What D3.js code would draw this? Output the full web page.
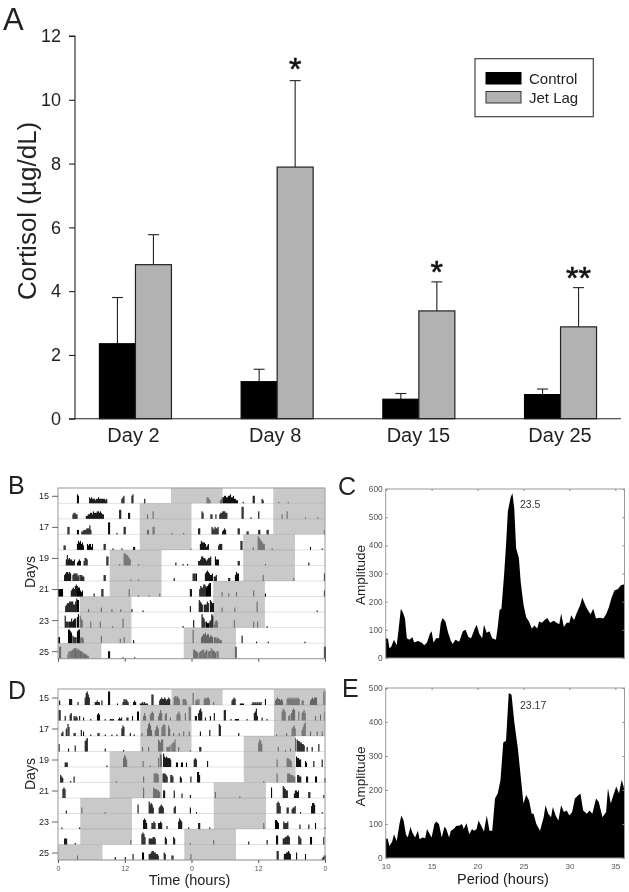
<!DOCTYPE html>
<html><head><meta charset="utf-8">
<script src="https://cdn.jsdelivr.net/npm/d3@7"></script>
<style>
html,body{margin:0;padding:0;background:#fff}
svg{display:block;filter:blur(0.35px)}
text{font-family:"Liberation Sans",Arial,sans-serif}
</style></head><body>
<script>
/* ---------- Panel A data ---------- */
const cortisolDays = ["Day 2","Day 8","Day 15","Day 25"];
const cortisolSeries = ["Control","Jet Lag"];
const controlMean = [2.35,1.16,0.61,0.755];
const controlErrTop = [3.8,1.55,0.79,0.93];
const jetLagMean = [4.83,7.89,3.38,2.88];
const jetLagErrTop = [5.77,10.6,4.29,4.11];
const significance = ["","*","*","**"];
const cortisolTicks = [0,2,4,6,8,10,12];

/* ---------- Actogram data ---------- */
const actoDays = [15,16,17,18,19,20,21,22,23,24,25];
const actoLabelDays = [15,17,19,21,23,25];
const actoHourTicks = [0,12,24,36,48];
const actoHourLabels = ["0","12","0","12","0"];
const darkB = [
 [[20.3,29.6],[38.7,48]],[[14.7,24],[38.7,48]],[[14.7,24],[38.7,48]],[[14.7,24],[33.3,42.6]],
 [[9.3,18.6],[33.3,42.6]],[[9.3,18.6],[33.3,42.6]],[[9.3,18.6],[27.9,37.2]],[[3.9,13.2],[27.9,37.2]],
 [[3.9,13.2],[27.9,37.2]],[[3.9,13.2],[22.6,32]],[[0,7.8],[22.6,32]]];
const darkD = [
 [[20.4,29.6],[38.8,48]],[[14.8,24],[38.8,48]],[[14.8,24],[38.8,48]],[[14.8,24],[33.4,42.7]],
 [[9.3,18.7],[33.4,42.7]],[[9.3,18.7],[33.4,42.7]],[[9.3,18.7],[28,37.4]],[[4,13.3],[28,37.4]],
 [[4,13.3],[28,37.4]],[[4,13.3],[22.7,32]],[[0,8],[22.7,32]]];
/* each burst: [start hour, activity digits per bin] */
const activityB = [
 [[3.4,"65"],[5.6,"434333233433333323"],[11.4,"345"],[13.2,"56"],[15.5,"3"],[26.7,"4432"],[29.1,"234455445564453322"],[33.2,"1"],[35,"55"],[36.6,"32"],[39.6,"1"],[41.3,"1"]],
 [[2.6,"34433"],[5,"223344354445545433"],[11,"66"],[12.6,"44"],[16,"3"],[17,"5"],[25.8,"54"],[27.4,"33"],[28.3,"3"],[29,"34455544"],[33,"88"],[34.6,"1"],[36,"5"],[40.2,"3"],[41.1,"5"],[44.4,"1"],[46.6,"1"]],
 [[1.7,"55"],[3.4,"33"],[4.2,"2233344463"],[9,"88"],[10.5,"1"],[11.8,"55"],[16,"33"],[17,"55"],[20.4,"1"],[22.5,"1"],[25.2,"44"],[27.6,"5435445"],[29.5,"2343"],[32.3,"44"],[33.9,"22"],[36,"33"],[37.5,"33"],[47.8,"3"]],
 [[1,"33"],[3.4,"4656453"],[5.2,"434424"],[8.2,"44"],[9.8,"1"],[11.4,"1"],[13.5,"22"],[23.8,"1"],[25.5,"465554234"],[28.8,"3444"],[32.8,"66"],[35,"2"],[35.9,"9876544"],[38.4,"1"],[45.3,"2"],[47.4,"1"]],
 [[1.4,"474544334"],[3.4,"2343"],[4.6,"3554"],[8.7,"66"],[11,"1"],[11.8,"8877654"],[14.4,"1"],[21.1,"2"],[22.4,"1"],[23.2,"1"],[25.2,"3346655434556"],[28.2,"6444"],[32.3,"33"],[37.2,"1"],[45,"2"]],
 [[1.1,"4566565"],[2.6,"4555534"],[4,"4433"],[8.2,"44"],[13,"1"],[14.4,"1"],[20.8,"2"],[24.2,"555"],[24.8,"5"],[26.4,"56765445"],[28,"334"],[30.6,"22"],[31.8,"4655"],[36.8,"4"],[42.3,"2"],[47.8,"5"]],
 [[0,"55555"],[2.3,"4565787"],[3.4,"566434"],[6.4,"2"],[7.8,"55"],[12.7,"5"],[14.4,"1"],[16.3,"1"],[18.2,"2"],[23.7,"55"],[25.4,"5766887"],[26.6,"67899"],[29.4,"3"],[30.6,"2"],[32,"3"],[35.1,"4"],[37.2,"2"],[47.8,"4"]],
 [[1.3,"45667"],[2.2,"7775579"],[3.4,"88"],[5.4,"2"],[7.7,"3"],[9.6,"2"],[11.2,"2"],[13.2,"2"],[15.2,"1"],[23.7,"4"],[25.3,"8765"],[26.2,"55576"],[27.3,"8766"],[29.4,"3"],[31.7,"3"],[35.7,"7"],[46.5,"1"]],
 [[1.2,"8444"],[2,"4464566"],[3.4,"79"],[3.9,"865"],[5.8,"4"],[7.5,"4"],[9.7,"1"],[11.6,"6"],[22.4,"1"],[24.3,"5"],[25.8,"9764"],[26.6,"433"],[27.2,"4598"],[28,"2454"],[31.6,"5"],[35.1,"4"],[35.8,"4"],[37.5,"1"]],
 [[0,"44"],[1.8,"9987"],[2.6,"5444"],[3.4,"899"],[3.9,"3443"],[7.7,"5"],[11.1,"3"],[11.8,"4"],[13.5,"2"],[24.2,"9"],[25.7,"45667"],[26.6,"5664554"],[28,"44343322"],[33,"5"],[35.6,"1"],[37.7,"1"],[44.3,"1"]],
 [[.2,"88"],[1.7,"35"],[2.1,"556677"],[3,"767665"],[4,"55443"],[4.8,"3322"],[9,"55"],[11.6,"1"],[13.7,"1"],[24.3,"66554"],[25.3,"4556"],[26.1,"6456"],[26.9,"5557"],[27.7,"6554"],[28.5,"55"],[31.8,"88"],[47.8,"88"]]
];
const activityD = [
 [[.2,"3"],[2,"444"],[3.5,"2"],[4.8,"58975"],[6.6,"22322"],[7.8,"3"],[9,"99"],[10.6,"1"],[11.6,"243432"],[13.5,"232"],[14.7,"11212111"],[16.8,"77"],[18.2,"34544543454"],[20.8,"565654"],[22.4,"4443"],[24.2,"8"],[24.7,"3434"],[26.2,"454554"],[27.9,"2"],[31.2,"3454"],[32.7,"1111"],[34.8,"1212121212"],[37.2,"4"],[39,"34544343"],[41.1,"4545454545454"],[43.8,"33"],[45.3,"3454555"],[47.7,"99"]],
 [[.1,"77"],[1.2,"3"],[2.1,"45"],[2.8,"3232"],[3.8,"3"],[4.5,"2"],[5.8,"1"],[7,"454"],[8.4,"1"],[9.3,"1111"],[10.8,"1212"],[12.3,"22"],[13.3,"3"],[14.2,"66"],[15.3,"353"],[16.5,"4565"],[18,"3575"],[19.2,"45"],[20.1,"2"],[21.3,"4564"],[22.8,"5"],[23.5,"99"],[24.6,"33"],[25.2,"5786"],[26.4,"2"],[27.3,"3"],[28,"5"],[29.8,"77"],[31,"1"],[31.8,"1111"],[33.9,"1"],[35.2,"5683"],[36.6,"2"],[37.5,"1"],[40.2,"6876"],[41.4,"34"],[41.9,"5787"],[43.2,"6"],[43.8,"5675"],[46.2,"3"],[47.1,"4"],[47.8,"6"]],
 [[.6,"23"],[1.4,"5"],[1.7,"86"],[2.8,"22"],[4.1,"4"],[4.5,"3"],[5.8,"1"],[7.1,"22"],[8.4,"1"],[9.6,"1"],[10.5,"1"],[11.4,"576"],[12.9,"2"],[13.6,"1"],[15,"2"],[16,"58974"],[17.4,"4675"],[18.6,"6787"],[19.8,"75"],[20.7,"2"],[21.7,"2"],[22.5,"3"],[23.5,"3"],[25.5,"3"],[27.2,"4"],[28.9,"87"],[32.4,"2"],[39.2,"1"],[41,"2"],[42,"5675"],[43.8,"4689"],[45.3,"3"],[46.5,"3"],[47.4,"3"]],
 [[.1,"5"],[1.8,"2"],[3,"4"],[4.8,"789"],[8.4,"2"],[11.7,"1"],[15.1,"3"],[16.2,"3"],[18,"87688"],[19.5,"3334"],[20.4,"5668"],[21.6,"3"],[23.7,"1"],[25.4,"33"],[36,"6875"],[39.5,"3"],[40.8,"1"],[41.7,"2"],[42.6,"9"],[42.9,"87766554"],[44.7,"3"],[45.6,"3"],[46.8,"5"]],
 [[1.2,"333"],[8.7,"1"],[11.7,"6875"],[15.2,"4"],[16.5,"1"],[18,"6"],[18.3,"98"],[18.9,"97676665"],[21.2,"33"],[22.1,"33"],[23,"3"],[24.4,"565"],[26.8,"4"],[39.3,"5"],[41.1,"66554"],[42.8,"76655"],[44.4,"43"],[45.9,"4"],[47.4,"5"]],
 [[.4,"543"],[2.2,"1"],[2.8,"4"],[10.4,"1"],[15.3,"4"],[17.2,"66665"],[18.8,"66654"],[20.2,"554"],[21.9,"43"],[23.8,"4"],[25,"775"],[36.9,"1"],[39.3,"6"],[41.2,"66655544"],[43,"5544"],[44.6,"44"],[46.2,"44"],[47.9,"3"]],
 [[.8,"676"],[15.3,"7"],[17.1,"7666554"],[18.9,"55"],[20.8,"5"],[22.2,"3"],[23.7,"2"],[28.2,"4"],[32.6,"1"],[38.3,"7"],[40.4,"87655"],[42.4,"35545"],[45,"44"],[47.7,"2"]],
 [[1.4,"2"],[4.2,"4"],[8.4,"1"],[14.3,"6"],[16.3,"86764"],[18.1,"45654"],[20.8,"45"],[23.7,"4"],[24.8,"1"],[39.3,"7875"],[41.1,"44"],[42,"3445"],[43.5,"1"],[45.5,"5776"],[47.4,"1"]],
 [[.6,"1"],[3.8,"1"],[15.3,"6764"],[16.8,"4454"],[18,"4454"],[19.5,"2"],[21.6,"5765"],[23.4,"1"],[25.2,"44"],[27.2,"1"],[36.9,"4"],[39,"6654"],[40.5,"54445"],[43.4,"3"],[45,"3"],[46.2,"4"],[47.9,"1"]],
 [[1.1,"444"],[3,"1"],[13,"3"],[15,"7875"],[16.3,"4444554"],[19.2,"54"],[20.7,"54"],[23.7,"1"],[27.9,"3"],[34.2,"2"],[37.5,"3"],[39.2,"66"],[40.4,"4455665"],[43.2,"654"],[45.3,"55"],[47.7,"5"]],
 [[3.4,"3"],[10.2,"2"],[12,"2"],[13.4,"4"],[15.1,"55"],[16.3,"4456655443"],[19,"54"],[20.4,"33"],[23.8,"4"],[39.3,"66"],[40.6,"4455654"],[42.8,"5"],[44.4,"4"],[47.4,"1233"]]
];

/* ---------- Periodogram data ---------- */
const periodTicks = [10,15,20,25,30,35];
const periodC = [10,10.25,10.4,10.6,10.9,11.2,11.4,11.65,11.9,12.1,12.3,12.6,12.9,13.1,13.5,13.9,14.2,14.5,14.8,15,15.2,15.5,15.8,16,16.2,16.5,16.8,17.1,17.3,17.6,18,18.4,18.7,19,19.3,19.7,19.9,20.2,20.5,20.7,21,21.3,21.6,22,22.2,22.4,22.6,22.9,23.1,23.3,23.6,23.8,24,24.2,24.5,24.7,25,25.3,25.6,25.9,26.2,26.5,26.7,27,27.3,27.6,27.9,28.3,28.6,28.9,29.1,29.4,29.7,30,30.2,30.5,30.8,31.2,31.4,31.7,32,32.3,32.6,32.9,33.3,33.7,34,34.3,34.6,34.9,35.3,35.6,36];
const ampC = [70,68,35,40,65,45,100,175,160,140,70,65,75,55,60,55,45,55,85,95,55,70,70,125,142,130,90,60,50,65,58,95,100,75,70,105,118,85,70,118,90,95,70,65,110,170,175,300,400,520,570,585,530,390,355,270,190,145,130,105,115,105,130,125,135,142,125,132,125,120,158,110,125,125,152,135,160,190,215,190,170,155,175,140,143,140,155,180,215,240,245,258,262];
const periodE = [10,10.2,10.4,10.7,10.9,11.2,11.5,11.7,11.95,12.2,12.4,12.7,12.9,13.2,13.5,13.7,14,14.3,14.5,14.8,15,15.3,15.5,15.8,16.1,16.4,16.6,16.9,17.1,17.4,17.7,18,18.3,18.5,18.8,19.1,19.4,19.6,19.9,20.1,20.4,20.7,21,21.3,21.6,21.9,22.2,22.5,22.8,23.1,23.4,23.7,24,24.4,24.7,25,25.3,25.6,25.9,26.1,26.4,26.8,27.2,27.4,27.7,28,28.2,28.5,28.8,29.1,29.4,29.7,30,30.3,30.6,31,31.2,31.5,31.9,32.2,32.5,32.9,33.2,33.6,34,34.2,34.5,34.8,35.1,35.4,35.7,36];
const ampE = [55,58,35,48,70,50,100,125,110,70,60,92,75,60,80,55,60,58,85,70,60,100,107,100,60,92,85,60,80,85,95,95,100,85,102,70,85,80,85,110,95,78,125,80,80,175,190,230,340,345,485,480,400,320,240,160,185,170,130,130,100,80,120,155,130,120,150,125,110,155,135,140,125,135,175,185,190,140,130,140,130,175,165,120,135,205,160,185,210,190,230,200];

/* ---------- Drawing ---------- */
const svg = d3.select("body").append("svg").attr("width",629).attr("height",892);
const ink = "#222", soft = "#555", frame = "#9a9a9a";

function label(t,x,y,size,opts={}){
  const e = svg.append("text").text(t).attr("x",x).attr("y",y).attr("font-size",size)
    .attr("fill",opts.fill||ink).attr("text-anchor",opts.anchor||"start");
  if(opts.rotate) e.attr("transform",`rotate(-90 ${x} ${y})`);
  return e;
}

/* Panel A */
(function(){
  const x0 = d3.scaleBand().domain(cortisolDays).range([64.6,631.4]);
  const barW = 36;
  const x1 = d3.scaleBand().domain(cortisolSeries).range([x0.bandwidth()/2-barW,x0.bandwidth()/2+barW]);
  const y = d3.scaleLinear().domain([0,12]).range([418.7,36]);
  const fills = {"Control":"#000","Jet Lag":"#b2b2b2"};
  const rows = cortisolDays.map((d,i)=>[
    {d,s:"Control",v:controlMean[i],e:controlErrTop[i]},
    {d,s:"Jet Lag",v:jetLagMean[i],e:jetLagErrTop[i]}]).flat();
  const g = svg.append("g");
  const cx = r=>x0(r.d)+x1(r.s)+x1.bandwidth()/2;
  g.selectAll("line.err").data(rows).join("line").attr("class","err")
    .attr("x1",cx).attr("x2",cx).attr("y1",r=>y(r.v)).attr("y2",r=>y(r.e)).attr("stroke","#222").attr("stroke-width",1.1);
  g.selectAll("line.cap").data(rows).join("line").attr("class","cap")
    .attr("x1",r=>cx(r)-5.5).attr("x2",r=>cx(r)+5.5).attr("y1",r=>y(r.e)).attr("y2",r=>y(r.e)).attr("stroke","#222").attr("stroke-width",1.1);
  g.selectAll("rect.bar").data(rows).join("rect").attr("class","bar")
    .attr("x",r=>x0(r.d)+x1(r.s)).attr("width",x1.bandwidth())
    .attr("y",r=>y(r.v)).attr("height",r=>y(0)-y(r.v))
    .attr("fill",r=>fills[r.s]).attr("stroke",r=>r.s==="Control"?"#000":"#222").attr("stroke-width",1.2);
  const ax = svg.append("g").attr("transform","translate(75,0)")
    .call(d3.axisLeft(y).tickValues(cortisolTicks).tickSize(6).tickPadding(8).tickFormat(d3.format("d")));
  ax.selectAll("path,line").attr("stroke","#222").attr("stroke-width",1.1);
  ax.selectAll("text").attr("font-size",18).attr("fill",ink).style("font-family",'"Liberation Sans"');
  ax.select(".domain").attr("d","M-6,36H0V418.7H-6");
  const bx = svg.append("g").attr("transform","translate(0,418.7)")
    .call(d3.axisBottom(x0).tickSize(0).tickPadding(9));
  bx.select(".domain").attr("d","M75,0H621").attr("stroke","#222").attr("stroke-width",1.1);
  bx.selectAll("text").attr("font-size",20).attr("fill",ink).style("font-family",'"Liberation Sans"');
  bx.selectAll(".tick text").attr("dx",(d,i)=>i<2?-2:-.5);
  cortisolDays.forEach((d,i)=>{ if(significance[i]){
    label(significance[i],x0(d)+x1("Jet Lag")+x1.bandwidth()/2,y(jetLagErrTop[i])-.5+(i===1?0:2),32,{anchor:"middle",fill:"#111"})
      .attr("stroke","#111").attr("stroke-width",.6);
  }});
  label("Cortisol (µg/dL)",36,300,26,{rotate:true});
  svg.append("rect").attr("x",475).attr("y",58.7).attr("width",118.3).attr("height",58).attr("fill","#fff").attr("stroke","#444").attr("stroke-width",1.2);
  cortisolSeries.forEach((s,i)=>{
    svg.append("rect").attr("x",486).attr("y",72.5+i*19).attr("width",35).attr("height",11.5).attr("fill",fills[s]).attr("stroke",i?"#333":"#000");
    label(s,529,83.5+i*19,15);
  });
})();
label("A",3,29.5,31);

/* Actograms */
function actogram(top,bottom,firstBase,dark,activity,opts){
  const x = d3.scaleLinear().domain([0,48]).range([58,325]);
  const base = d3.scalePoint().domain(actoDays).range([firstBase,bottom]);
  const rowH = base.step();
  const h = d3.scaleLinear().domain([0,9]).range([0,13.5]);
  const binH = .18;
  const g = svg.append("g");
  actoDays.forEach((day,i)=>{
    const b = base(day);
    g.selectAll(null).data(dark[i]).join("rect")
      .attr("x",d=>x(d[0])).attr("width",d=>x(d[1])-x(d[0]))
      .attr("y",b-rowH).attr("height",rowH).attr("fill","#c9c9c9");
  });
  actoDays.forEach((day,i)=>{
    const b = base(day);
    g.append("line").attr("x1",x(0)).attr("x2",x(48)).attr("y1",b).attr("y2",b).attr("stroke","#000").attr("stroke-opacity",.12);
    const bins = [];
    activity[i].forEach(([start,digits])=>{
      [...digits].forEach((c,k)=>bins.push({t:start+k*binH,v:+c}));
    });
    g.selectAll(null).data(bins).join("rect")
      .attr("x",d=>x(d.t)).attr("width",x(binH)-x(0)+.05)
      .attr("y",d=>b-h(d.v)).attr("height",d=>h(d.v))
      .attr("fill",d=>dark[i].some(s=>d.t>=s[0]&&d.t<s[1])?"#666":"#000");
  });
  svg.append("rect").attr("x",x(0)).attr("y",top).attr("width",x(48)-x(0)).attr("height",bottom-top)
    .attr("fill","none").attr("stroke",frame);
  const ay = d3.scaleLinear().domain([15,25]).range([firstBase-7.5,bottom-7.5]);
  const a = svg.append("g").attr("transform",`translate(${x(0)},0)`)
    .call(d3.axisLeft(ay).tickValues(actoLabelDays).tickSize(6).tickPadding(3).tickFormat(d3.format("d")));
  a.select(".domain").remove();
  a.selectAll("line").attr("stroke","#666");
  a.selectAll("text").attr("font-size",9).attr("fill",ink).style("font-family",'"Liberation Sans"');
  const bx = svg.append("g").attr("transform",`translate(0,${bottom})`)
    .call(d3.axisBottom(x).tickValues(actoHourTicks).tickSize(3).tickPadding(3)
      .tickFormat((d,i)=>opts.hourLabels?actoHourLabels[i]:""));
  bx.select(".domain").remove();
  bx.selectAll("line").attr("stroke","#555");
  bx.selectAll("text").attr("font-size",7).attr("fill",soft).style("font-family",'"Liberation Sans"');
}
actogram(488,658.7,503.3,darkB,activityB,{hourLabels:false});
actogram(689,860,705,darkD,activityD,{hourLabels:true});
label("B",8,494,25);
label("D",8,699,25);
label("Days",34.5,588,14,{rotate:true});
label("Days",34.5,790,14,{rotate:true});
label("Time (hours)",189.5,885,14.5,{anchor:"middle"});

/* Periodograms */
function periodogram(top,bottom,max,yStep,periods,amps,peak,peakY,showX){
  const x = d3.scaleLinear().domain([10,36]).range([385.7,624.5]);
  const y = d3.scaleLinear().domain([0,max]).range([bottom,top]);
  const area = d3.area().x(d=>x(d[0])).y0(y(0)).y1(d=>y(d[1]));
  svg.append("path").datum(periods.map((p,i)=>[p,amps[i]])).attr("d",area).attr("fill","#000");
  svg.append("rect").attr("x",x(10)).attr("y",top).attr("width",x(36)-x(10)).attr("height",bottom-top).attr("fill","none").attr("stroke",frame);
  const yt = d3.range(0,max+1,yStep);
  const ay = svg.append("g").attr("transform",`translate(${x(10)},0)`)
    .call(d3.axisLeft(y).tickValues(yt).tickSize(-2).tickPadding(3).tickFormat(d3.format("d")));
  ay.select(".domain").remove();
  ay.selectAll("line").attr("stroke","#888");
  ay.selectAll("text").attr("font-size",8.3).attr("fill",soft).style("font-family",'"Liberation Sans"');
  const ar = svg.append("g").attr("transform",`translate(${x(36)},0)`)
    .call(d3.axisRight(y).tickValues(yt).tickSize(-2).tickFormat(""));
  ar.select(".domain").remove(); ar.selectAll("line").attr("stroke","#888");
  const at = svg.append("g").attr("transform",`translate(0,${top})`)
    .call(d3.axisTop(x).tickValues(periodTicks).tickSize(-2).tickFormat(""));
  at.select(".domain").remove(); at.selectAll("line").attr("stroke","#888");
  if(showX){
    const ab = svg.append("g").attr("transform",`translate(0,${bottom})`)
      .call(d3.axisBottom(x).tickValues(periodTicks).tickSize(0).tickPadding(5).tickFormat(d3.format("d")));
    ab.select(".domain").remove();
    ab.selectAll("text").attr("font-size",8).attr("fill",soft).style("font-family",'"Liberation Sans"');
  }
  label(peak,520,peakY,10.5,{fill:"#333"});
}
periodogram(489,658,600,100,periodC,ampC,"23.5",508,false);
periodogram(688,858,500,100,periodE,ampE,"23.17",709,true);
label("C",338,495,25);
label("E",342,697,25);
label("Amplitude",365,605,13.5,{rotate:true});
label("Amplitude",365,806.5,13.5,{rotate:true});
label("Period (hours)",503,884,14.5,{anchor:"middle"});
</script>
</body></html>
